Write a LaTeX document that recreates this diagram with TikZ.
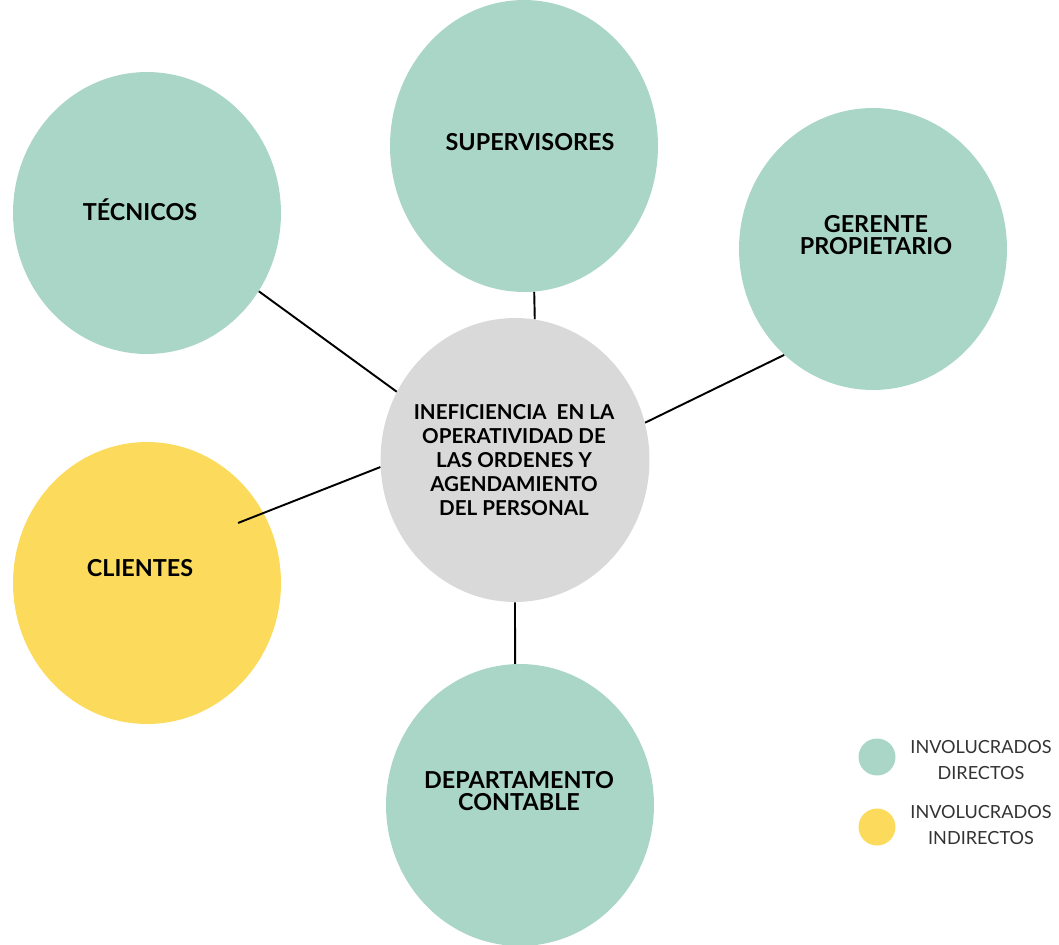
\documentclass[tikz,border=0pt]{standalone}
\usepackage{fontspec}
\setmainfont{Lato}
\usetikzlibrary{shapes.geometric}
\definecolor{directo}{HTML}{AAD6C7}
\definecolor{indirecto}{HTML}{FCDB5C}
\definecolor{problema}{HTML}{D9D9D9}
\tikzset{
  actor/.style={ellipse, fill=directo, inner sep=0pt, minimum width=5.36cm, minimum height=5.64cm},
  lbl/.style={font=\bfseries\fontsize{13.3}{12.6}\selectfont, align=center},
  leyenda/.style={circle, inner sep=0pt, minimum size=0.74cm},
  leytxt/.style={font=\fontsize{10.3}{14.7}\selectfont, align=center, text=black!80}
}

\begin{document}
\begin{tikzpicture}[x=0.02cm, y=-0.02cm]
        \useasboundingbox (0,0) rectangle (1059,944);
        % actores
        \node[actor] (tec) at (147,213) {};
        \node[actor, minimum height=5.84cm] (sup) at (524,146) {};
        \node[actor] (ger) at (873,249) {};
        \node[actor, fill=indirecto] (cli) at (147,583) {};
        \node[actor] (dep) at (520,805) {};
        \node[actor, fill=problema, minimum width=5.38cm, minimum height=5.68cm] (pro) at (515,460) {};
        \draw[line width=1.1pt] (tec.325) -- (pro.150);
        \draw[line width=1.1pt] (sup.274) -- (pro.82);
        \draw[line width=1.1pt] (ger.230) -- (pro.16);
        \draw[line width=1.1pt, shorten <=-0.55cm] (cli.31) -- (pro.183);
        \draw[line width=1.1pt] (dep.92) -- (pro.270);
        \node[lbl] (tecL) at (140,210) {TÉCNICOS};
        \node[lbl] (supL) at (530,142) {SUPERVISORES};
        \node[lbl] (gerL) at (876,235) {GERENTE\\PROPIETARIO};
        \node[lbl] (cliL) at (140,568) {CLIENTES};
        \node[lbl] (depL) at (519,791) {DEPARTAMENTO\\CONTABLE};
        \node[lbl, font=\bfseries\fontsize{11.7}{13.7}\selectfont] (proL) at (514,460)
             {INEFICIENCIA \ EN LA\\OPERATIVIDAD DE\\LAS ORDENES Y\\AGENDAMIENTO\\DEL PERSONAL};
        % leyenda
        \node[leyenda, fill=directo] (ld) at (877,757) {};
        \node[leyenda, fill=indirecto] (li) at (877,827) {};
        \node[leytxt] (ldL) at (981,760) {INVOLUCRADOS\\DIRECTOS};
        \node[leytxt] (liL) at (981,825) {INVOLUCRADOS\\INDIRECTOS};
    \end{tikzpicture}
\end{document}
